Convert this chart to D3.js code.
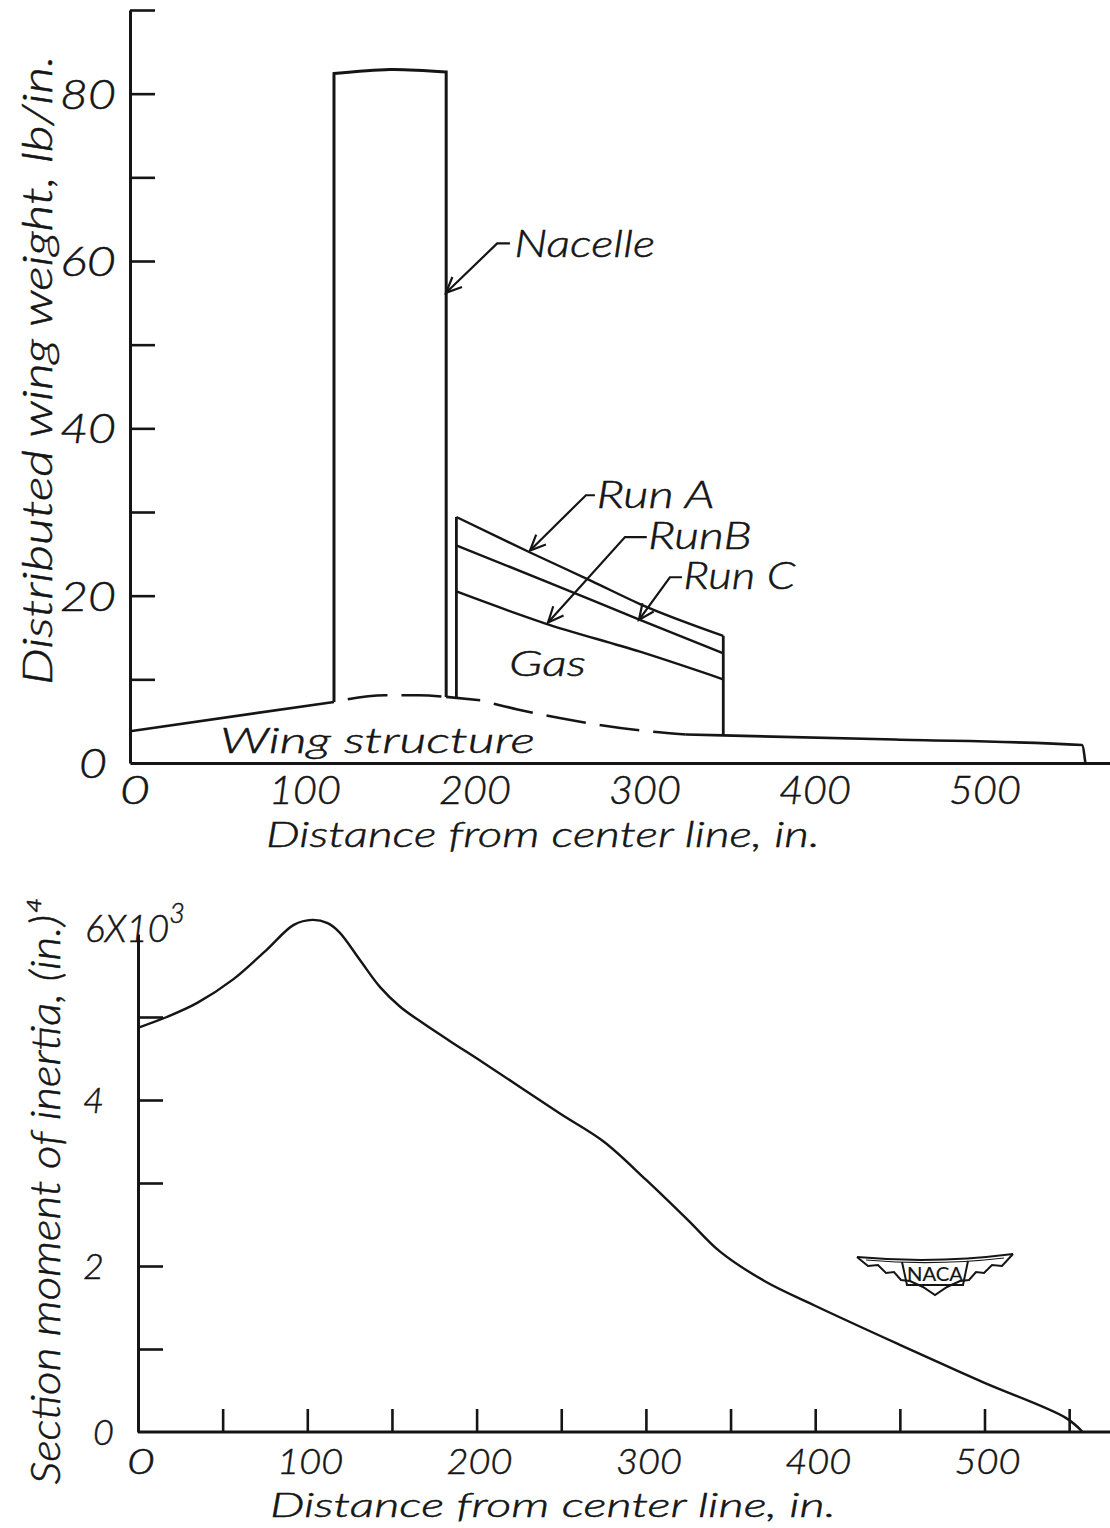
<!DOCTYPE html>
<html><head><meta charset="utf-8">
<script src="https://cdn.jsdelivr.net/npm/d3@7"></script>
<style>
body{margin:0;background:#fff}
svg{display:block}
text{font-family:"Lato","DejaVu Sans",sans-serif;font-style:italic;font-weight:300;fill:#151515;stroke:#151515;stroke-width:0.5}
</style>
</head><body>
<svg id="c" width="1110" height="1528"></svg>
<script>
// ---------- data (top chart: distributed wing weight, lb/in.) ----------
const wingX   = [0, 120, 150, 170, 186, 206, 228, 260, 300, 327, 349, 450, 560, 562];
const wingY   = [3.8, 7.3, 8.1, 8.1, 7.9, 7.5, 6.4, 5.1, 3.9, 3.4, 3.3, 2.8, 2.15, 0];
const wingDashedRanges = [[120, 186], [206, 327]];
const wingSolidRanges  = [[0, 120], [186, 206], [327, 562]];
const nacelleX   = [120, 153, 186];
const nacelleTop = [82.4, 82.9, 82.6];
const nacelleBase = [7.3, 7.9];
const runAX = [192, 236, 271, 300, 349];
const runAY = [29.4, 25.1, 21.8, 19.0, 15.2];
const runCX = [192, 246, 300, 349];
const runCY = [26.0, 21.6, 17.1, 13.1];
const runBX = [192, 244, 300, 349];
const runBY = [20.5, 16.7, 13.3, 10.0];
const gasEdges = [[192, 7.65, 29.4], [349, 3.3, 15.2]];
const topYTicks  = [10, 20, 30, 40, 50, 60, 70, 80, 90];
const topYLabels = [0, 20, 40, 60, 80];
const topXLabels = [0, 100, 200, 300, 400, 500];

// ---------- data (bottom chart: section moment of inertia, thousands in^4) ----------
const inertiaX = [0, 17, 35, 56, 76, 92, 103, 112, 119, 131, 143, 155, 168, 185, 204, 249, 275, 300, 325, 344, 370, 399, 450, 499, 548, 558];
const inertiaY = [4.87, 5.0, 5.17, 5.45, 5.81, 6.11, 6.17, 6.13, 6.02, 5.69, 5.36, 5.12, 4.93, 4.7, 4.45, 3.84, 3.5, 3.04, 2.55, 2.17, 1.82, 1.53, 1.05, 0.6, 0.17, 0.0];
const botYTicks  = [1, 2, 3, 4, 5];
const botYLabels = ["0", "2", "4"];
const botYLabelVals = [0, 2, 4];
const botXTicks  = [50, 100, 150, 200, 250, 300, 350, 400, 450, 500, 550];
const botXLabels = [0, 100, 200, 300, 400, 500];

const svg = d3.select("#c");
const ink = "#151515";

// ---------- scales ----------
const xT = d3.scaleLinear().domain([0, 576.5]).range([130, 1110]);
const yT = d3.scaleLinear().domain([0, 90]).range([763, 10]);
const xB = d3.scaleLinear().domain([0, 575]).range([138, 138 + 575 * 1.693]);
const yB = d3.scaleLinear().domain([0, 6]).range([1432, 934]);

// ---------- top axes ----------
const gTY = svg.append("g").attr("transform", `translate(${xT(0)},0)`)
  .call(d3.axisRight(yT).tickValues(topYTicks).tickSize(25).tickSizeOuter(0).tickFormat(""));
const gTX = svg.append("g").attr("transform", `translate(0,${yT(0)})`)
  .call(d3.axisBottom(xT).tickValues([]).tickSizeOuter(0));
[gTY, gTX].forEach(g => {
  g.select(".domain").attr("stroke", ink).attr("stroke-width", 3);
  g.selectAll(".tick line").attr("stroke", ink).attr("stroke-width", 2.6);
});

function fit(sel, len) { return sel.attr("textLength", len).attr("lengthAdjust", "spacingAndGlyphs"); }

svg.selectAll(".tyl").data(topYLabels).join("text")
  .attr("x", d => d === 0 ? 107 : 116).attr("y", d => yT(d)).attr("dy", "0.36em")
  .attr("text-anchor", "end").attr("font-size", 42)
  .attr("textLength", d => d === 0 ? 28 : 56).attr("lengthAdjust", "spacingAndGlyphs").text(d => d);
svg.selectAll(".txl").data(topXLabels).join("text")
  .attr("x", d => xT(d) + 5).attr("y", 804)
  .attr("text-anchor", "middle").attr("font-size", 40)
  .attr("textLength", d => d === 0 ? 30 : 72).attr("lengthAdjust", "spacingAndGlyphs").text(d => d);
fit(svg.append("text").attr("x", 266).attr("y", 847).attr("font-size", 35), 554)
  .text("Distance from center line, in.");
fit(svg.append("text").attr("transform", "translate(52,370) rotate(-90)")
  .attr("text-anchor", "middle").attr("font-size", 41), 630)
  .text("Distributed wing weight, lb/in.");

// ---------- top marks ----------
const wing = wingX.map((x, i) => [x, wingY[i]]);
const lineT = d3.line().x(d => xT(d[0])).y(d => yT(d[1])).curve(d3.curveMonotoneX);
wingSolidRanges.forEach(([a, b]) => {
  svg.append("path").attr("d", lineT(wing.filter(d => d[0] >= a && d[0] <= b)))
    .attr("fill", "none").attr("stroke", ink).attr("stroke-width", 2.6);
});
wingDashedRanges.forEach(([a, b]) => {
  svg.append("path").attr("d", lineT(wing.filter(d => d[0] >= a && d[0] <= b)))
    .attr("fill", "none").attr("stroke", ink).attr("stroke-width", 2.6)
    .attr("stroke-dasharray", "40,14").attr("stroke-dashoffset", -14);
});

// nacelle outline
const nac = nacelleX.map((x, i) => [x, nacelleTop[i]]);
svg.append("path")
  .attr("d", `M${xT(nacelleX[0])},${yT(nacelleBase[0])}` +
    d3.line().x(d => xT(d[0])).y(d => yT(d[1])).curve(d3.curveNatural)(nac).replace(/^M/, "L") +
    `L${xT(nacelleX[2])},${yT(nacelleBase[1])}`)
  .attr("fill", "none").attr("stroke", ink).attr("stroke-width", 3);

// gas / run lines
[[runAX, runAY], [runCX, runCY], [runBX, runBY]].forEach(([xs, ys]) => {
  svg.append("path").attr("d", lineT(xs.map((x, i) => [x, ys[i]])))
    .attr("fill", "none").attr("stroke", ink).attr("stroke-width", 2.4);
});
svg.selectAll(".gasEdge").data(gasEdges).join("line")
  .attr("x1", d => xT(d[0])).attr("x2", d => xT(d[0]))
  .attr("y1", d => yT(d[1])).attr("y2", d => yT(d[2]))
  .attr("stroke", ink).attr("stroke-width", 2.8);

// ---------- annotations ----------
function arrow(tip, elbow, end, xs, ys) {
  const t = [xs(tip[0]), ys(tip[1])], e = [xs(elbow[0]), ys(elbow[1])], s = [xs(end[0]), ys(end[1])];
  svg.append("path").attr("d", `M${s[0]},${s[1]}L${e[0]},${e[1]}L${t[0]},${t[1]}`)
    .attr("fill", "none").attr("stroke", ink).attr("stroke-width", 2.2);
  const ang = Math.atan2(t[1] - e[1], t[0] - e[0]);
  const L = 17, w = 0.42;
  const p1 = [t[0] - L * Math.cos(ang - w), t[1] - L * Math.sin(ang - w)];
  const p2 = [t[0] - L * Math.cos(ang + w), t[1] - L * Math.sin(ang + w)];
  svg.append("path").attr("d", `M${p1[0]},${p1[1]}L${t[0]},${t[1]}L${p2[0]},${p2[1]}`)
    .attr("fill", "none").attr("stroke", ink).attr("stroke-width", 2.2);
}
arrow([185.9, 56.2], [216, 62.1], [223.5, 62.1], xT, yT);
arrow([235.3, 25.4], [268.2, 32.0], [273.5, 32.0], xT, yT);
arrow([245.9, 16.8], [291.2, 27.0], [304.0, 27.0], xT, yT);
arrow([299.4, 17.1], [317.6, 22.2], [324.7, 22.2], xT, yT);

function label(txt, x, y, len, fs) {
  fit(svg.append("text").attr("x", xT(x)).attr("y", yT(y)).attr("font-size", fs), len).text(txt);
}
label("Nacelle", 226, 60.5, 141, 38);
label("Run A", 274.5, 30.5, 118, 37);
label("RunB", 304.7, 25.6, 104, 37);
label("Run C", 325.5, 20.8, 112, 37);
label("Gas", 223, 10.4, 77, 36);
label("Wing  structure", 52.9, 1.2, 315, 36);

// ---------- bottom axes ----------
const gBY = svg.append("g").attr("transform", `translate(${xB(0)},0)`)
  .call(d3.axisRight(yB).tickValues(botYTicks).tickSize(25).tickSizeOuter(0).tickFormat(""));
const gBX = svg.append("g").attr("transform", `translate(0,${yB(0)})`)
  .call(d3.axisTop(xB).tickValues(botXTicks).tickSize(23).tickSizeOuter(0).tickFormat(""));
[gBY, gBX].forEach(g => {
  g.select(".domain").attr("stroke", ink).attr("stroke-width", 3);
  g.selectAll(".tick line").attr("stroke", ink).attr("stroke-width", 2.6);
});
gBX.select(".domain").attr("d", `M${xB(0)},0H1110`);

svg.selectAll(".byl").data(botYLabelVals).join("text")
  .attr("x", d => d === 0 ? 114 : 104).attr("y", d => yB(d)).attr("dy", "0.36em")
  .attr("text-anchor", "end").attr("font-size", 36).text((d, i) => botYLabels[i]);
const sixLab = svg.append("text").attr("x", 85).attr("y", 942).attr("font-size", 37);
sixLab.append("tspan").text("6X10");
sixLab.append("tspan").attr("dy", -19).attr("font-size", 27).text("3");

svg.selectAll(".bxl").data(botXLabels).join("text")
  .attr("x", d => xB(d) + 3).attr("y", 1474)
  .attr("text-anchor", "middle").attr("font-size", 35)
  .attr("textLength", d => d === 0 ? 28 : 66).attr("lengthAdjust", "spacingAndGlyphs").text(d => d);
fit(svg.append("text").attr("x", 270).attr("y", 1517).attr("font-size", 34), 566)
  .text("Distance from  center line, in.");
fit(svg.append("text").attr("transform", "translate(60,1192) rotate(-90)")
  .attr("text-anchor", "middle").attr("font-size", 41), 585)
  .text("Section moment of inertia, (in.)\u2074");

// ---------- bottom curve ----------
svg.append("path")
  .attr("d", d3.line().x(d => xB(d[0])).y(d => yB(d[1])).curve(d3.curveCatmullRom.alpha(0.5))(
    inertiaX.map((x, i) => [x, inertiaY[i]])))
  .attr("fill", "none").attr("stroke", ink).attr("stroke-width", 2.4);

// ---------- NACA emblem ----------
const logo = svg.append("g").attr("fill", "none").attr("stroke", ink).attr("stroke-width", 2);
logo.append("path").attr("d", "M857,1257 Q935,1264 1013,1254");
logo.append("path").attr("d", "M866,1260 Q935,1266 1004,1258").attr("stroke-width", 1.2);
logo.append("path").attr("d", d3.line()([[857,1257],[868,1266],[878,1265],[886,1273],[894,1272],[901,1280],[910,1281],[923,1287],[935,1295],[947,1287],[960,1281],[969,1280],[976,1272],[984,1273],[992,1265],[1002,1266],[1013,1254]]));
logo.append("path").attr("d", "M902,1262 L907,1285 L963,1285 L968,1261");
svg.append("text").attr("x", 935).attr("y", 1281).attr("text-anchor", "middle")
  .attr("font-size", 19).style("font-style", "normal").style("font-weight", "400").style("stroke-width", 0.2)
  .attr("textLength", 56).attr("lengthAdjust", "spacingAndGlyphs").text("NACA");
</script>
</body></html>
